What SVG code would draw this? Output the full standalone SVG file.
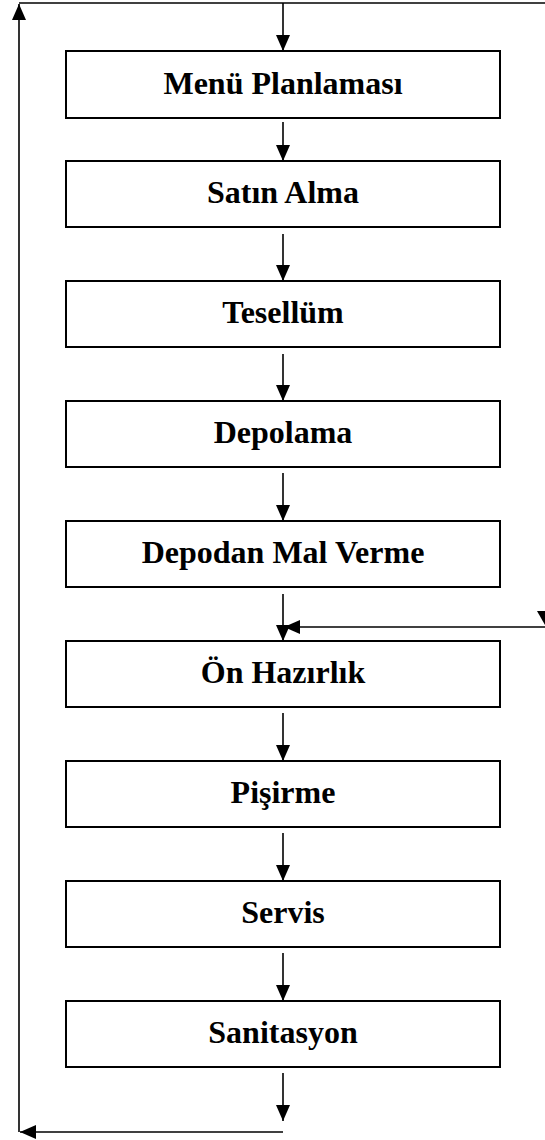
<svg xmlns="http://www.w3.org/2000/svg" width="545" height="1140" viewBox="0 0 545 1140">
  <style>
    .box { fill: #ffffff; stroke: #000000; stroke-width: 2; }
    .line { fill: none; stroke: #000000; stroke-width: 1.6; }
    .label { font-family: "Liberation Serif", "Times New Roman", serif; font-weight: bold; font-size: 32px; text-anchor: middle; fill: #000000; }
  </style>
  <defs>
    <marker id="head" viewBox="0 0 16 14" refX="16" refY="7" markerWidth="16" markerHeight="14" markerUnits="userSpaceOnUse" orient="auto">
      <path d="M0,0 L16,7 L0,14 Z" fill="#000000"/>
    </marker>
  </defs>
  <rect width="545" height="1140" fill="#ffffff"/>

  <!-- connectors -->
  <g id="connectors">
    <!-- loop back from the end to the start -->
    <line class="line" x1="19" y1="3" x2="545" y2="3"/>
    <line class="line" x1="19" y1="1132" x2="19" y2="4" marker-end="url(#head)"/>
    <line class="line" x1="283" y1="1132" x2="20" y2="1132" marker-end="url(#head)"/>
    <!-- main chain -->
    <line class="line" x1="283" y1="3" x2="283" y2="51" marker-end="url(#head)"/>
    <line class="line" x1="283" y1="122" x2="283" y2="161" marker-end="url(#head)"/>
    <line class="line" x1="283" y1="234" x2="283" y2="281" marker-end="url(#head)"/>
    <line class="line" x1="283" y1="354" x2="283" y2="401" marker-end="url(#head)"/>
    <line class="line" x1="283" y1="473" x2="283" y2="521" marker-end="url(#head)"/>
    <line class="line" x1="283" y1="594" x2="283" y2="641" marker-end="url(#head)"/>
    <line class="line" x1="283" y1="713" x2="283" y2="761" marker-end="url(#head)"/>
    <line class="line" x1="283" y1="833" x2="283" y2="881" marker-end="url(#head)"/>
    <line class="line" x1="283" y1="953" x2="283" y2="1001" marker-end="url(#head)"/>
    <line class="line" x1="283" y1="1073" x2="283" y2="1121" marker-end="url(#head)"/>
    <!-- side entry into Ön Hazırlık -->
    <line class="line" x1="545" y1="627" x2="284" y2="627" marker-end="url(#head)"/>
    <path d="M537,611 L553,611 L545,625 Z" fill="#000000"/>
  </g>

  <!-- process steps -->
  <g id="menu-planlamasi">
    <rect class="box" x="66" y="51" width="434" height="67"/>
    <text class="label" x="283" y="94">Menü Planlaması</text>
  </g>
  <g id="satin-alma">
    <rect class="box" x="66" y="161" width="434" height="66"/>
    <text class="label" x="283" y="203">Satın Alma</text>
  </g>
  <g id="tesellum">
    <rect class="box" x="66" y="281" width="434" height="66"/>
    <text class="label" x="283" y="323">Tesellüm</text>
  </g>
  <g id="depolama">
    <rect class="box" x="66" y="401" width="434" height="66"/>
    <text class="label" x="283" y="443">Depolama</text>
  </g>
  <g id="depodan-mal-verme">
    <rect class="box" x="66" y="521" width="434" height="66"/>
    <text class="label" x="283" y="563">Depodan Mal Verme</text>
  </g>
  <g id="on-hazirlik">
    <rect class="box" x="66" y="641" width="434" height="66"/>
    <text class="label" x="283" y="683">Ön Hazırlık</text>
  </g>
  <g id="pisirme">
    <rect class="box" x="66" y="761" width="434" height="66"/>
    <text class="label" x="283" y="803">Pişirme</text>
  </g>
  <g id="servis">
    <rect class="box" x="66" y="881" width="434" height="66"/>
    <text class="label" x="283" y="923">Servis</text>
  </g>
  <g id="sanitasyon">
    <rect class="box" x="66" y="1001" width="434" height="66"/>
    <text class="label" x="283" y="1043">Sanitasyon</text>
  </g>
</svg>
